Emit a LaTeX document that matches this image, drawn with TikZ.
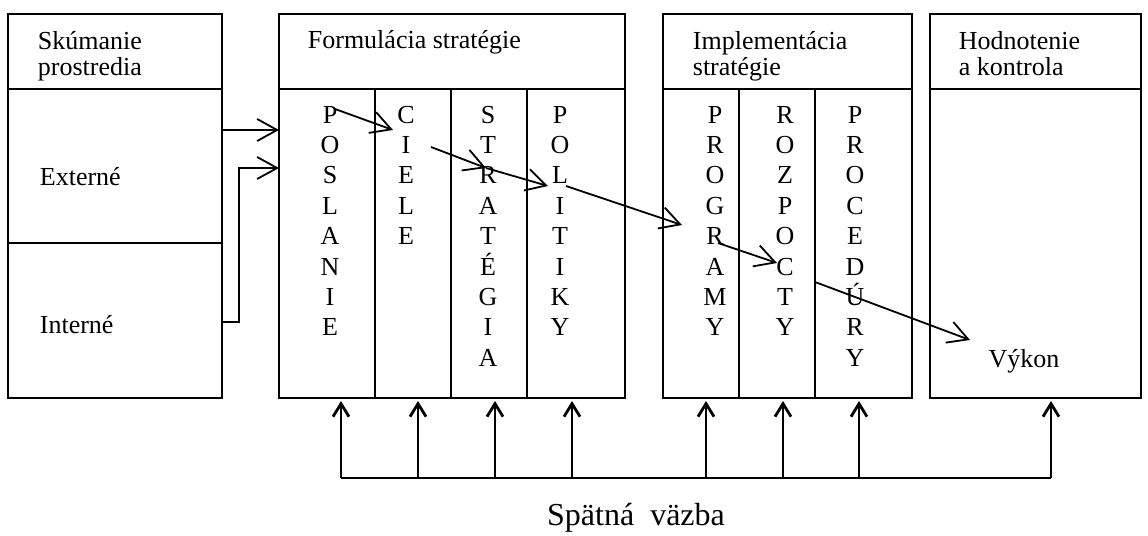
\documentclass[tikz,border=0pt]{standalone}
\usepackage{fontspec}
\setmainfont{Liberation Serif}
\usetikzlibrary{arrows.meta}

\begin{document}
\begin{tikzpicture}[x=0.5pt, y=-0.5pt, line width=0.9pt, every node/.style={font=\fontsize{13}{15}\selectfont, inner sep=0pt}]
            \tikzstyle{head}=[anchor=base west]
            \tikzstyle{letter}=[anchor=base]
            \tikzstyle{flow}=[-{Straight Barb[length=10pt,width=11pt]}]
            \tikzstyle{back}=[line width=1.4pt, -{Straight Barb[length=6.5pt,width=8pt]}]
            \useasboundingbox (0,0) rectangle (1148,536);
            % boxes and columns
            \draw (8,14) rectangle (222,398);
            \draw (8,89) -- (222,89) (8,243) -- (222,243);
            \draw (279,14) rectangle (625,398);
            \draw (279,89) -- (625,89);
            \foreach \x in {375,451,527} \draw (\x,89) -- (\x,398);
            \draw (663,14) rectangle (912,398);
            \draw (663,89) -- (912,89);
            \foreach \x in {739,815} \draw (\x,89) -- (\x,398);
            \draw (930,14) rectangle (1141,398);
            \draw (930,89) -- (1141,89);
            % headings
            \node[head] (env1) at (37,49) {Skúmanie};
            \node[head] (env2) at (37,75) {prostredia};
            \node[head] (form) at (307,48) {Formulácia stratégie};
            \node[head] (impl1) at (692,49) {Implementácia};
            \node[head] (impl2) at (692,75) {stratégie};
            \node[head] (eval1) at (958,49) {Hodnotenie};
            \node[head] (eval2) at (958,75) {a kontrola};
            \node[head] (ext) at (39,185) {Externé};
            \node[head] (int) at (39,333) {Interné};
            \node[letter] (vykon) at (1024,367) {Výkon};
            % letter columns
            \foreach \ch [count=\i] in {P,O,S,L,A,N,I,E}
                \node[letter] (pos-\i) at (330,{123+(\i-1)*30.4}) {\ch};
            \foreach \ch [count=\i] in {C,I,E,L,E}
                \node[letter] (cie-\i) at (406,{123+(\i-1)*30.4}) {\ch};
            \foreach \ch [count=\i] in {S,T,R,A,T,É,G,I,A}
                \node[letter] (str-\i) at (488,{123+(\i-1)*30.4}) {\ch};
            \foreach \ch [count=\i] in {P,O,L,I,T,I,K,Y}
                \node[letter] (pol-\i) at (560,{123+(\i-1)*30.4}) {\ch};
            \foreach \ch [count=\i] in {P,R,O,G,R,A,M,Y}
                \node[letter] (prg-\i) at (715,{123+(\i-1)*30.4}) {\ch};
            \foreach \ch [count=\i] in {R,O,Z,P,O,C,T,Y}
                \node[letter] (roz-\i) at (785,{123+(\i-1)*30.4}) {\ch};
            \foreach \ch [count=\i] in {P,R,O,C,E,D,Ú,R,Y}
                \node[letter] (prc-\i) at (855,{123+(\i-1)*30.4}) {\ch};
            % inputs from the environment
            \coordinate (in1) at (222,130);
            \coordinate (to1) at (279,130);
            \coordinate (in2) at (222,322);
            \coordinate (to2) at (279,168);
            \draw[flow] (in1) -- (to1);
            \draw[flow] (in2) -- (239,322) |- (to2);
            % flow through the columns
            \coordinate (f1) at (335,109);
            \coordinate (f2) at (393,130);
            \coordinate (f3) at (431,147);
            \coordinate (f4) at (486,168);
            \coordinate (f5) at (548,186);
            \coordinate (f6) at (566,186);
            \coordinate (f7) at (682,225);
            \coordinate (f8) at (718,243);
            \coordinate (f9) at (777,263);
            \coordinate (f10) at (815,282);
            \coordinate (f11) at (970,340);
            \draw[flow] (f1) -- (f2);
            \draw[flow] (f3) -- (f4);
            \draw[flow] (f4) -- (f5);
            \draw[flow] (f6) -- (f7);
            \draw[flow] (f8) -- (f9);
            \draw[flow] (f10) -- (f11);
            % feedback
            \coordinate (fbl) at (341,478);
            \coordinate (fbr) at (1051,478);
            \draw[line width=1.4pt] (fbl) -- (fbr);
            \foreach \x in {341,418,495,572,706,783,859,1051}
                \draw[back] (\x,478) -- (\x,401);
            \node[anchor=base, font=\fontsize{16}{19}\selectfont] (spat) at (636,525) {Spätná\ \ väzba};
        \end{tikzpicture}
\end{document}
